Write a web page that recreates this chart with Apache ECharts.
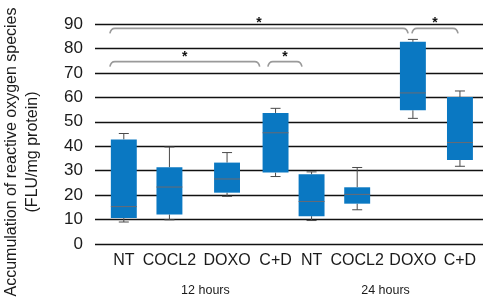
<!DOCTYPE html>
<html lang="en">
<head>
  <meta charset="UTF-8">
  <title>ROS accumulation box plot</title>
  <script src="https://cdn.jsdelivr.net/npm/echarts@6/dist/echarts.min.js"></script>
  <style>
    html, body { margin: 0; padding: 0; background: #fff; }
  </style>
</head>
<body>
<div id="main" style="width:488px;height:307px;"></div>
<script>
  // treatment names, one per box
  var categories = ['NT', 'COCL2', 'DOXO', 'C+D', 'NT', 'COCL2', 'DOXO', 'C+D'];
  // x position of each box on the (hidden) value axis
  var xPos = [1, 1.95, 3.15, 4.16, 4.91, 5.86, 7.02, 8.0];
  // [min, q1, median, q3, max]
  var boxes = [
    [9.0, 10.6, 15.3, 42.8, 45.2],
    [9.9, 12.1, 23.3, 31.4, 39.7],
    [19.5, 21.0, 26.6, 33.3, 37.4],
    [27.6, 29.2, 45.5, 53.6, 55.5],
    [9.6, 11.4, 17.4, 28.5, 29.5],
    [14.0, 16.5, 20.3, 23.2, 31.3],
    [51.4, 54.7, 61.8, 82.7, 83.7],
    [31.8, 34.4, 41.5, 60.1, 62.6]
  ];
  var groups = ['12 hours', '24 hours'];
  var groupPos = [2.7, 6.45];
  var yTicks = [0, 10, 20, 30, 40, 50, 60, 70, 80, 90];
  // significance brackets: [xStart, xEnd, level]
  var brackets = [
    [0.71, 6.92, 88.2],
    [7.0, 7.96, 88.2],
    [0.71, 3.83, 74.6],
    [4.0, 4.71, 74.6]
  ];

  var font = '"Liberation Sans", Arial, sans-serif';
  var blue = '#0a78c2';

  var boxData = boxes.map(function (b, i) { return [xPos[i]].concat(b); });

  function renderBox(params, api) {
    var x = api.value(0);
    var lo = api.coord([x, api.value(1)]);
    var q1 = api.coord([x, api.value(2)]);
    var md = api.coord([x, api.value(3)]);
    var q3 = api.coord([x, api.value(4)]);
    var hi = api.coord([x, api.value(5)]);
    var w = api.size([0.54, 0])[0];
    var cap = 5;
    var ln = { stroke: '#4a4a4a', lineWidth: 1 };
    return {
      type: 'group',
      children: [
        { type: 'line', shape: { x1: hi[0], y1: hi[1], x2: q3[0], y2: q3[1] }, style: ln },
        { type: 'line', shape: { x1: hi[0] - cap, y1: hi[1], x2: hi[0] + cap, y2: hi[1] }, style: ln },
        { type: 'line', shape: { x1: lo[0], y1: lo[1], x2: q1[0], y2: q1[1] }, style: ln },
        { type: 'line', shape: { x1: lo[0] - cap, y1: lo[1], x2: lo[0] + cap, y2: lo[1] }, style: ln },
        { type: 'rect', shape: { x: q3[0] - w / 2, y: q3[1], width: w, height: q1[1] - q3[1] }, style: { fill: blue } },
        { type: 'line', shape: { x1: md[0] - w / 2, y1: md[1], x2: md[0] + w / 2, y2: md[1] }, style: { stroke: '#6a6a72', lineWidth: 1 } }
      ]
    };
  }

  function renderBracket(params, api) {
    var a = api.coord([api.value(0), api.value(2)]);
    var b = api.coord([api.value(1), api.value(2)]);
    var drop = 5, r = 5;
    var path = 'M' + a[0] + ' ' + (a[1] + drop) +
      ' Q' + (a[0] + 1) + ' ' + a[1] + ' ' + (a[0] + r) + ' ' + a[1] +
      ' L' + (b[0] - r) + ' ' + b[1] +
      ' Q' + (b[0] - 1) + ' ' + b[1] + ' ' + b[0] + ' ' + (b[1] + drop);
    var mid = api.coord([(api.value(0) + api.value(1)) / 2, api.value(2)]);
    return {
      type: 'group',
      children: [
        { type: 'path', shape: { pathData: path }, style: { stroke: '#9a9a9a', lineWidth: 1.6, fill: null } },
        { type: 'text', x: mid[0], y: mid[1] + 2, style: { text: '*', fill: '#111', font: 'bold 14px ' + font, align: 'center', verticalAlign: 'bottom' } }
      ]
    };
  }

  var myChart = echarts.init(document.getElementById('main'));

  var option = {
    animation: false,
    grid: { left: 95, right: 5, top: 24, bottom: 63, outerBoundsMode: 'none', containLabel: false },
    xAxis: [
      {
        type: 'value', min: 0.4, max: 8.48,
        axisLine: { show: false }, axisTick: { show: false }, splitLine: { show: false },
        axisLabel: {
          customValues: xPos,
          formatter: function (v) { return categories[xPos.indexOf(v)]; },
          color: '#1a1a1a', fontSize: 16, fontFamily: font, margin: 9
        }
      },
      {
        type: 'value', min: 0.4, max: 8.48, position: 'bottom', offset: 34,
        axisLine: { show: false }, axisTick: { show: false }, splitLine: { show: false },
        axisLabel: {
          customValues: groupPos,
          formatter: function (v) { return groups[groupPos.indexOf(v)]; },
          color: '#1a1a1a', fontSize: 12.5, fontFamily: font, margin: 6
        }
      }
    ],
    yAxis: {
      type: 'value', min: yTicks[0], max: yTicks[yTicks.length - 1], interval: 10,
      axisLine: { show: false }, axisTick: { show: false },
      splitLine: { lineStyle: { color: '#111', width: 1.3 } },
      axisLabel: { color: '#1a1a1a', fontSize: 17, fontFamily: font, margin: 12 },
      name: 'Accumulation of reactive oxygen species\n(FLU/mg protein)',
      nameLocation: 'middle', nameRotate: 90, nameGap: 52,
      nameTextStyle: { color: '#1a1a1a', fontSize: 16, fontFamily: font, lineHeight: 21, padding: [0, 36, 0, 0] }
    },
    series: [
      {
        type: 'custom', renderItem: renderBox, data: boxData,
        encode: { x: 0, y: [1, 2, 3, 4, 5] }, z: 3
      },
      {
        type: 'custom', renderItem: renderBracket, data: brackets,
        encode: { x: [0, 1], y: 2 }, clip: false, z: 4
      }
    ]
  };

  myChart.setOption(option);
</script>
</body>
</html>
